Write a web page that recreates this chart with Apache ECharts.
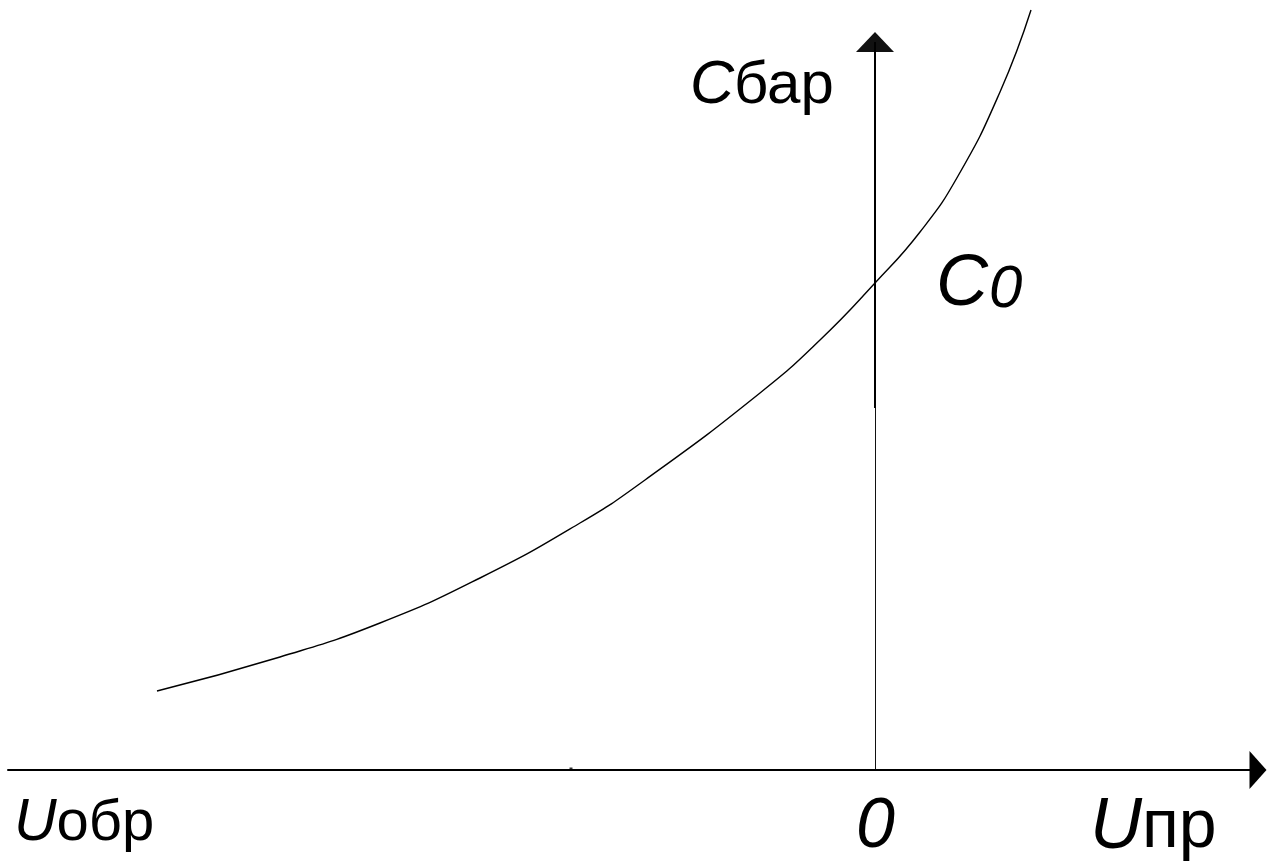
<!DOCTYPE html>
<html>
<head>
<meta charset="utf-8">
<script src="https://cdn.jsdelivr.net/npm/echarts@6/dist/echarts.min.js"></script>
<style>
html,body{margin:0;padding:0;background:#fff;}
#chart{width:1268px;height:865px;}
</style>
</head>
<body>
<div id="chart"></div>
<script>
// Barrier capacitance vs. voltage (arbitrary units)
const uValues = [-71.8, -59.5, -49.5, -39.5, -29.5, -23.0, -11.5, -5.5, 0, 4.5, 8.3, 12.5, 15.6];
const cValues = [7.9, 11.3, 14.7, 19.2, 24.7, 29.0, 37.7, 43.0, 48.7, 53.8, 59.4, 67.8, 76.0];
// thick upper part of the vertical axis
const axisBoldU = [0, 0];
const axisBoldC = [36.2, 72.8];
// small dot on the horizontal axis
const dotU = [-30.4];
const dotC = [0.1];
const xRange = [-86.7, 38.3];
const yRange = [0, 72.8];

const curve = uValues.map((u, i) => [u, cValues[i]]);
const bold = axisBoldU.map((u, i) => [u, axisBoldC[i]]);
const dots = dotU.map((u, i) => [u, dotC[i]]);

const chart = echarts.init(document.getElementById('chart'), null, {renderer: 'canvas'});
const fam = '"Liberation Sans", Arial, sans-serif';
chart.setOption({
  backgroundColor: '#fff',
  animation: false,
  grid: {left: 8, right: 10, top: 42, bottom: 95},
  xAxis: {
    type: 'value', min: xRange[0], max: xRange[1],
    axisLine: {show: true, onZero: true, symbol: ['none', 'triangle'], symbolSize: [38, 17],
      lineStyle: {color: '#000', width: 2}},
    axisTick: {show: false}, axisLabel: {show: false}, splitLine: {show: false}
  },
  yAxis: {
    type: 'value', min: yRange[0], max: yRange[1],
    axisLine: {show: true, onZero: true, symbol: ['none', 'triangle'], symbolSize: [38, 20],
      lineStyle: {color: '#111', width: 1}},
    axisTick: {show: false}, axisLabel: {show: false}, splitLine: {show: false}
  },
  series: [
    {type: 'line', data: curve, smooth: 0.5, showSymbol: false, symbol: 'none', clip: false,
      lineStyle: {color: '#000', width: 1.4}, silent: true},
    {type: 'line', data: bold, showSymbol: false, symbol: 'none', clip: false,
      lineStyle: {color: '#000', width: 2}, silent: true},
    {type: 'scatter', data: dots, symbol: 'rect', symbolSize: 3, itemStyle: {color: '#000'}, silent: true}
  ],
  graphic: [
    {type: 'text', x: 690, y: 86, style: {text: '{i|C}{n|бар}', textVerticalAlign: 'middle',
      rich: {i: {fontFamily: fam, fontStyle: 'italic', fontSize: 61, fill: '#000'},
             n: {fontFamily: fam, fontSize: 60, fill: '#000'}}}},
    {type: 'text', x: 936, y: 285, style: {text: 'C', textVerticalAlign: 'middle',
      fontFamily: fam, fontStyle: 'italic', fontSize: 72, fill: '#000'}},
    {type: 'text', x: 989, y: 290, style: {text: '0', textVerticalAlign: 'middle',
      fontFamily: fam, fontStyle: 'italic', fontSize: 60, fill: '#000'}},
    {type: 'text', x: 14, y: 824, style: {text: '{i|U}{n|обр}', textVerticalAlign: 'middle',
      rich: {i: {fontFamily: fam, fontStyle: 'italic', fontSize: 59, fill: '#000'},
             n: {fontFamily: fam, fontSize: 58, fill: '#000'}}}},
    {type: 'text', x: 856, y: 828, style: {text: '0', textVerticalAlign: 'middle',
      fontFamily: fam, fontStyle: 'italic', fontSize: 70, fill: '#000'}},
    {type: 'text', x: 1090, y: 828, style: {text: '{i|U}{n|пр}', textVerticalAlign: 'middle',
      rich: {i: {fontFamily: fam, fontStyle: 'italic', fontSize: 72, fill: '#000'},
             n: {fontFamily: fam, fontSize: 68, fill: '#000'}}}}
  ]
});
</script>
</body>
</html>
